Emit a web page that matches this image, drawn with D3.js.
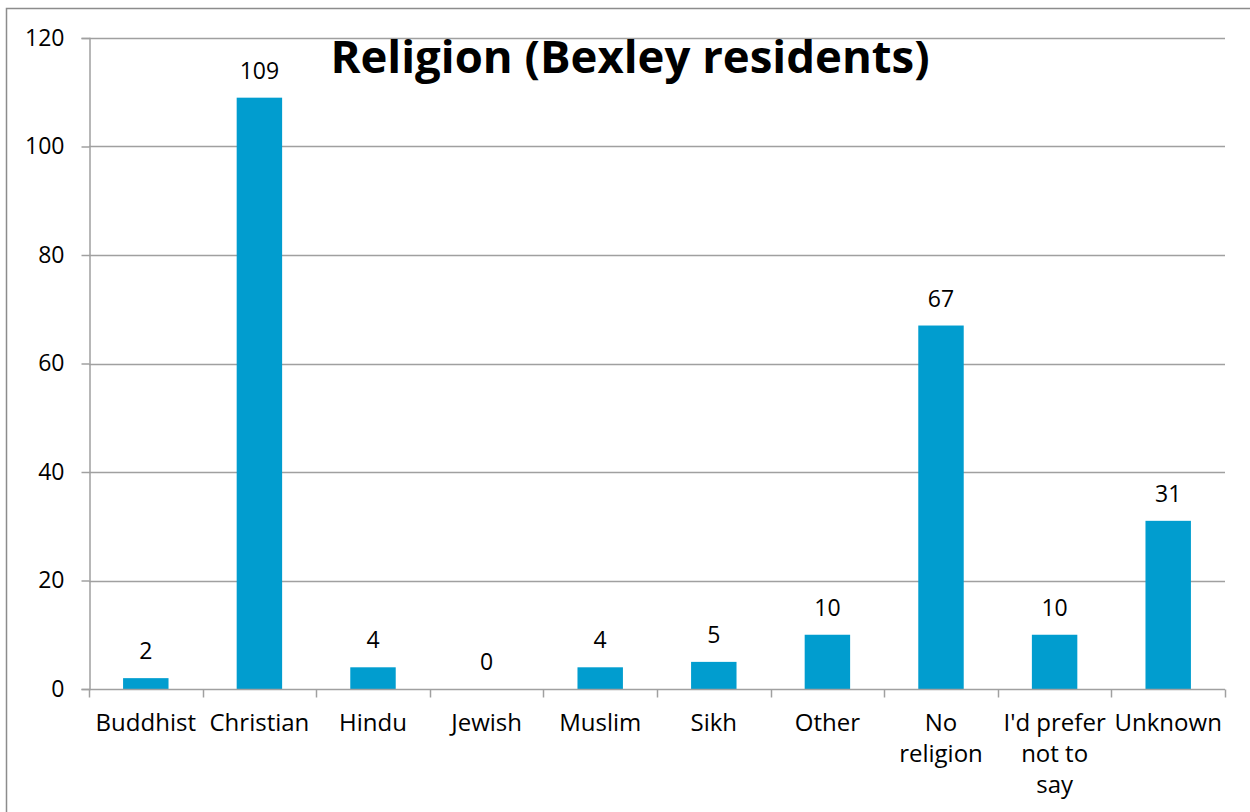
<!DOCTYPE html>
<html>
<head>
<meta charset="utf-8">
<script src="https://cdn.jsdelivr.net/npm/d3@7"></script>
<style>
  html, body { margin: 0; padding: 0; background: #fff; }
  svg { display: block; }
  text { font-family: "Open Sans", "Noto Sans", sans-serif; fill: #000; }
</style>
</head>
<body>
<svg id="chart" width="1250" height="812"></svg>
<script>
// Residents by religion
const categories = ["Buddhist", "Christian", "Hindu", "Jewish", "Muslim", "Sikh", "Other", "No religion", "I'd prefer not to say", "Unknown"];
const counts = [2, 109, 4, 0, 4, 5, 10, 67, 10, 31];
const yTicks = [0, 20, 40, 60, 80, 100, 120];
const title = "Religion (Bexley residents)";

const svg = d3.select("#chart");
const W = 1250, H = 812;
const plot = { left: 89, right: 1225, top: 38, bottom: 689 };
const numberSize = "23px";
const categorySize = "24px";
const wrapWidth = 105;

// outer chart frame (continues past the right and bottom edges)
svg.append("rect")
  .attr("x", 6.5).attr("y", 8.5)
  .attr("width", W + 10).attr("height", H + 10)
  .attr("fill", "none").attr("stroke", "#8c8c8c").attr("stroke-width", 1.5);

const x = d3.scaleBand().domain(categories).range([plot.left, plot.right]).paddingInner(0).paddingOuter(0);
const y = d3.scaleLinear().domain([0, 120]).range([plot.bottom, plot.top]);

// horizontal gridlines
svg.append("g")
  .selectAll("line")
  .data(yTicks.filter(d => d > 0))
  .join("line")
  .attr("x1", plot.left).attr("x2", plot.right)
  .attr("y1", d => Math.round(y(d)) + 0.5).attr("y2", d => Math.round(y(d)) + 0.5)
  .attr("stroke", "#a0a0a0").attr("stroke-width", 1.5);

// y axis
const yAxis = svg.append("g")
  .attr("transform", `translate(${plot.left + 0.5},0)`)
  .call(d3.axisLeft(y).tickValues(yTicks).tickSize(8).tickPadding(17).tickFormat(d3.format("d")));
yAxis.select(".domain").attr("stroke", "#a0a0a0").attr("stroke-width", 1.5);
yAxis.selectAll(".tick line").attr("stroke", "#a0a0a0").attr("stroke-width", 1.5);
yAxis.selectAll(".tick text").style("font-size", numberSize).attr("fill", "#000");

// bars
const barW = x.bandwidth() * 0.4;
svg.append("g")
  .selectAll("rect")
  .data(counts)
  .join("rect")
  .attr("x", (d, i) => x(categories[i]) + (x.bandwidth() - barW) / 2)
  .attr("y", d => y(d))
  .attr("width", barW)
  .attr("height", d => y(0) - y(d))
  .attr("fill", "#019dcf");

// value labels
svg.append("g")
  .selectAll("text")
  .data(counts)
  .join("text")
  .attr("x", (d, i) => x(categories[i]) + x.bandwidth() / 2)
  .attr("y", d => y(d) - 19)
  .attr("text-anchor", "middle")
  .style("font-size", numberSize)
  .text(d => d);

// x axis
const xAxis = svg.append("g")
  .attr("transform", `translate(0,${plot.bottom + 0.5})`)
  .call(d3.axisBottom(x).tickSize(0).tickPadding(0).tickFormat(""));
xAxis.select(".domain").remove();
xAxis.append("line")
  .attr("x1", plot.left).attr("x2", plot.right)
  .attr("stroke", "#a0a0a0").attr("stroke-width", 1.5);
// boundary ticks between categories
xAxis.append("g").selectAll("line")
  .data(d3.range(categories.length + 1))
  .join("line")
  .attr("x1", i => Math.round(plot.left + i * x.step()) + 0.5)
  .attr("x2", i => Math.round(plot.left + i * x.step()) + 0.5)
  .attr("y1", 0).attr("y2", 8)
  .attr("stroke", "#a0a0a0").attr("stroke-width", 1.5);

// category labels, wrapped word by word
const labels = svg.append("g");
categories.forEach(cat => {
  const cx = x(cat) + x.bandwidth() / 2;
  const t = labels.append("text")
    .attr("x", cx)
    .attr("y", plot.bottom + 42)
    .attr("text-anchor", "middle")
    .style("font-size", categorySize);
  const words = cat.split(" ");
  let line = [];
  let tspan = t.append("tspan").attr("x", cx).attr("dy", 0);
  words.forEach(w => {
    line.push(w);
    tspan.text(line.join(" "));
    if (tspan.node().getComputedTextLength() > wrapWidth && line.length > 1) {
      line.pop();
      tspan.text(line.join(" "));
      line = [w];
      tspan = t.append("tspan").attr("x", cx).attr("dy", 31).text(w);
    }
  });
});

// title
svg.append("text")
  .attr("x", 630).attr("y", 73)
  .attr("text-anchor", "middle")
  .style("font-size", "45.5px").style("font-weight", "bold")
  .text(title);
</script>
</body>
</html>
